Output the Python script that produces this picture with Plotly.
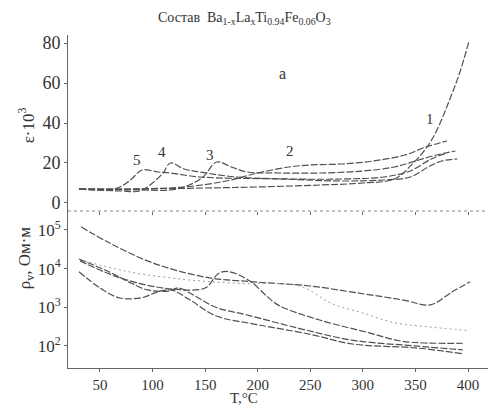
import numpy as np
import plotly.graph_objects as go
from plotly.subplots import make_subplots

# ---- panel a: permittivity eps*10^3 vs T ----
T1a = [30, 80, 150, 200, 260, 300, 330, 348, 361, 370, 382, 392, 401]
E1a = [7, 7, 7.5, 8, 9, 10, 12, 20, 28, 36, 51, 65, 81]
T2a = [30, 80, 130, 170, 200, 230, 250, 280, 310, 340, 360, 380]
E2a = [7, 7, 8, 11, 15, 18, 19, 19.5, 21, 24, 28, 31]
T3a = [30, 90, 117, 135, 148, 161, 175, 190, 221, 260, 300, 330, 350, 370, 388]
E3a = [7, 6.5, 6.5, 9, 13, 20.5, 18, 15.5, 15, 15, 16, 18, 21, 24, 26]
T4a = [30, 70, 88, 100, 110, 117, 130, 145, 180, 230, 280, 320, 345, 365, 380]
E4a = [7, 6, 6, 10, 15, 20, 17, 15.5, 13, 12, 12, 13, 16, 22, 25]
T5a = [30, 55, 69, 80, 90, 105, 117, 145, 221, 280, 320, 345, 362, 375, 390]
E5a = [7, 6.5, 8, 12, 16.5, 15.5, 15, 13, 12, 11, 11.5, 13, 18, 21, 22]

# ---- panel b: resistivity log10(rho_v) vs T ----
T1b = [32, 60, 100, 150, 200, 250, 300, 340, 364, 385, 402]
R1b = [5.08, 4.65, 4.15, 3.78, 3.65, 3.55, 3.35, 3.18, 3.06, 3.4, 3.66]
T2b = [31, 75, 130, 180, 240, 270, 300, 330, 360, 400]
R2b = [4.23, 3.93, 3.72, 3.62, 3.55, 3.1, 2.85, 2.6, 2.5, 2.4]
T3b = [31, 60, 90, 120, 150, 163, 173, 193, 209, 220, 259, 306, 338, 395]
R3b = [4.2, 3.85, 3.6, 3.47, 3.5, 3.88, 3.92, 3.67, 3.28, 3.05, 2.67, 2.34, 2.12, 2.07]
T4b = [30, 60, 80, 95, 115, 125, 140, 160, 190, 240, 290, 350, 395]
R4b = [4.25, 3.9, 3.62, 3.45, 3.42, 3.5, 3.3, 3.0, 2.8, 2.45, 2.15, 2.0, 1.9]
T5b = [30, 50, 69, 90, 105, 118, 135, 160, 200, 250, 290, 350, 395]
R5b = [3.92, 3.5, 3.24, 3.25, 3.4, 3.45, 3.2, 2.78, 2.55, 2.3, 2.05, 1.95, 1.8]

x_ticks = [50, 100, 150, 200, 250, 300, 350, 400]
eps_ticks = [0, 20, 40, 60, 80]
rho_exps = [2, 3, 4, 5]
rho_ticktext = ["10<sup>%d</sup>" % e for e in rho_exps]

fig = make_subplots(rows=2, cols=1, shared_xaxes=True, vertical_spacing=0,
                    row_heights=[0.5285, 0.4715])

col = "#505050"
font = "Liberation Serif"
line = dict(color=col, width=1.2, dash="7px,2px")

for T, E in [(T1a, E1a), (T2a, E2a), (T3a, E3a), (T4a, E4a), (T5a, E5a)]:
    fig.add_trace(go.Scatter(x=T, y=E, mode="lines", line=dict(line, shape="spline"),
                             showlegend=False), row=1, col=1)

for i, (T, R) in enumerate([(T1b, R1b), (T2b, R2b), (T3b, R3b), (T4b, R4b), (T5b, R5b)]):
    ln = dict(line, shape="spline")
    if i == 1:
        ln = dict(color="#9a9a9a", width=1.0, dash="2px,3px", shape="spline")
    fig.add_trace(go.Scatter(x=T, y=np.power(10.0, R), mode="lines", line=ln,
                             showlegend=False), row=2, col=1)

axis_common = dict(showgrid=False, zeroline=False, linecolor="#666", linewidth=1,
                   ticks="outside", ticklen=3, tickcolor="#666", mirror=False)

fig.update_xaxes(range=[19.6, 419], tickvals=x_ticks, showticklabels=False,
                 showline=False, row=1, col=1,
                 **{k: v for k, v in axis_common.items() if k not in ("linecolor",)})
fig.update_xaxes(range=[19.6, 419], tickvals=x_ticks, row=2, col=1, showline=True,
                 tickfont=dict(family=font, size=15, color="#333"), **axis_common)
fig.update_yaxes(range=[-4, 84], tickvals=eps_ticks, showline=True, row=1, col=1,
                 tickfont=dict(family=font, size=18, color="#333"), **axis_common)
fig.update_yaxes(type="log", range=[1.43, 5.49], tickvals=[10**e for e in rho_exps],
                 ticktext=rho_ticktext, showline=True, row=2, col=1,
                 tickfont=dict(family=font, size=17, color="#333"), **axis_common)

# dotted separator between panels
fig.add_shape(type="line", xref="paper", yref="paper", x0=0, x1=1, y0=0.4715, y1=0.4715,
              line=dict(color="#888", width=1, dash="dot"))

ann = []
def A(text, x, y, xref, yref, size=14, **kw):
    ann.append(dict(text=text, x=x, y=y, xref=xref, yref=yref, showarrow=False,
                    font=dict(family=font, size=size, color="#333"), **kw))

A("Состав  Ba<sub>1-x</sub>La<sub>x</sub>Ti<sub>0.94</sub>Fe<sub>0.06</sub>O<sub>3</sub>",
  0.42, 1.0, "paper", "paper", size=14, yanchor="bottom", yshift=6)

A("ε·10<sup>3</sup>", -0.13, 0.79, "paper", "paper", size=17, textangle=-90)
A("ρ<sub>v</sub>, Ом·м", -0.13, 0.23, "paper", "paper", size=17, textangle=-90)
A("T,°C", 0.42, 0, "paper", "paper", size=15, yanchor="top", yshift=-20)

A("а", 224, 65, "x", "y", size=16)
A("1", 364, 42, "x", "y", size=15)
A("2", 231, 26, "x", "y", size=15)
A("3", 155, 24, "x", "y", size=15)
A("4", 109, 25.5, "x", "y", size=15)
A("5", 85, 21.5, "x", "y", size=15)

A("б", 226, 10**4.48, "x2", "y2", size=16)
A("3", 187, 10**4.05, "x2", "y2", size=15)
A("2", 255, 10**3.92, "x2", "y2", size=15)
A("1", 338, 10**3.45, "x2", "y2", size=15)
A("–4", 185, 10**2.8, "x2", "y2", size=15)
A("5", 143, 10**2.47, "x2", "y2", size=15)

fig.update_layout(width=490, height=417, margin=dict(l=68, r=2, t=35, b=49),
                  plot_bgcolor="white", paper_bgcolor="white", annotations=ann)
fig.write_html("out.html")
